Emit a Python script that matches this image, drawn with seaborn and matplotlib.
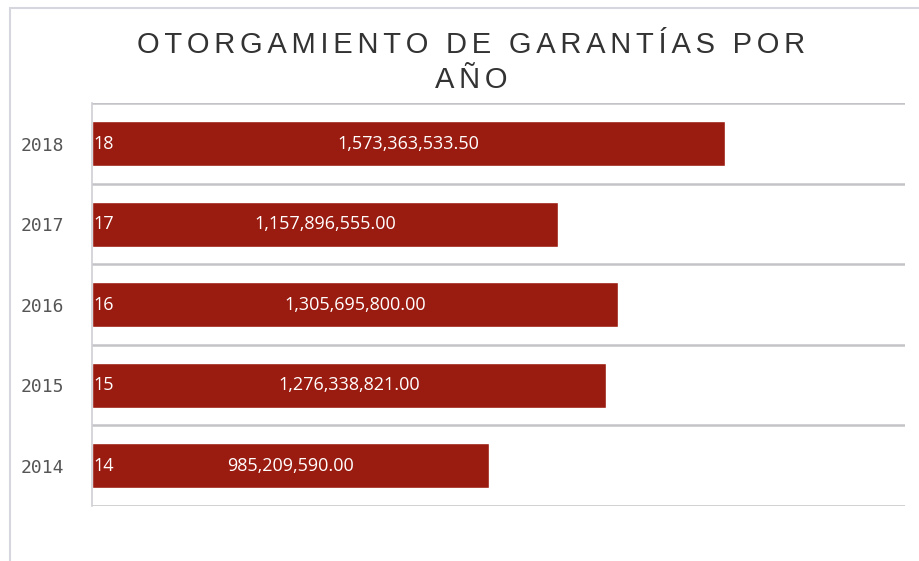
import pandas as pd
import matplotlib
matplotlib.use('Agg')
import matplotlib.pyplot as plt
import seaborn as sns
from matplotlib.patches import Rectangle

# data
years = ['2018', '2017', '2016', '2015', '2014']
counts = [18, 17, 16, 15, 14]
amounts = [1573363533.50, 1157896555.00, 1305695800.00, 1276338821.00, 985209590.00]
title = 'OTORGAMIENTO DE GARANTÍAS POR\nAÑO'

df = pd.DataFrame({'year': years, 'count': counts, 'amount': amounts})

sns.set_style('white')
plt.rcParams['font.family'] = ['DejaVu Sans']

fig = plt.figure(figsize=(9.2, 5.61), dpi=100)
ax = fig.add_axes([0.1, 0.098, 0.884, 0.718])

sns.barplot(data=df, x='amount', y='year', order=years, color='#9a1b10',
            saturation=1, width=0.56, ax=ax)

ax.set_xlim(0, 2.02e9)
ax.set_ylim(4.5, -0.5)

# gridlines between categories
ax.set_yticks([i + 0.5 for i in range(-1, 5)], minor=True)
ax.grid(True, which='minor', axis='y', color='#c4c4c8', linewidth=1.8)
ax.tick_params(axis='y', which='minor', length=0)
ax.tick_params(axis='y', which='major', length=0, pad=20,
               labelsize=13, labelcolor='#555555')
for lbl in ax.get_yticklabels():
    lbl.set_family('DejaVu Sans Mono')
ax.set_xticks([])
ax.set_xlabel('')
ax.set_ylabel('')

for side in ['top', 'right', 'bottom']:
    ax.spines[side].set_visible(False)
ax.spines['left'].set_color('#cfcfd4')
ax.spines['left'].set_linewidth(1.2)

# labels inside the bars
for i, (c, a) in enumerate(zip(counts, amounts)):
    ax.text(0.004e9, i, str(c), color='white', va='center', ha='left',
            fontsize=13, family='Open Sans')
    ax.text(a / 2, i, f'{a:,.2f}', color='white', va='center', ha='center',
            fontsize=13, family='Open Sans')

# letter-spaced title with hair spaces
spaced = '\n'.join('\u200a\u200a'.join(line) for line in title.split('\n'))
fig.text(0.512, 0.889, spaced, ha='center', va='center', fontsize=21,
         color='#333333', family=['Liberation Sans', 'DejaVu Sans'],
         linespacing=1.33)

# outer frame of the chart area
fig.patches.append(Rectangle((10 / 920, -0.01), 1.0, 1 - 8 / 561 + 0.01,
                             transform=fig.transFigure, fill=False,
                             edgecolor='#d6d6de', linewidth=1.5))

fig.savefig('out.png', dpi=100)
